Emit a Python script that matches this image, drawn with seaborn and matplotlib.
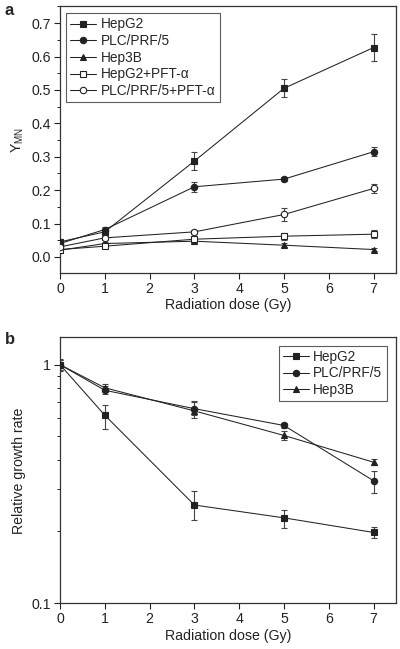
import numpy as np
import pandas as pd
import matplotlib
matplotlib.use("Agg")
import matplotlib.pyplot as plt
import seaborn as sns
from matplotlib.ticker import MultipleLocator, LogLocator, NullFormatter, FixedLocator, FixedFormatter

sns.set_style("ticks")
plt.rcParams['font.family'] = ['Liberation Sans', 'DejaVu Sans']
plt.rcParams['mathtext.fontset'] = 'custom'
plt.rcParams['mathtext.rm'] = 'Liberation Sans'

dose = [0, 1, 3, 5, 7]

# Panel a: Y_MN
a_names = ["HepG2", "PLC/PRF/5", "Hep3B", "HepG2+PFT-α", "PLC/PRF/5+PFT-α"]
a_hepg2 = [0.045, 0.075, 0.287, 0.505, 0.627]
a_hepg2_err = [0.010, 0.010, 0.028, 0.027, 0.040]
a_plc = [0.040, 0.082, 0.210, 0.233, 0.315]
a_plc_err = [0.008, 0.008, 0.015, 0.007, 0.013]
a_hep3b = [0.020, 0.040, 0.047, 0.035, 0.022]
a_hep3b_err = [0.005, 0.005, 0.006, 0.006, 0.004]
a_hepg2_pft = [0.022, 0.032, 0.053, 0.062, 0.068]
a_hepg2_pft_err = [0.006, 0.006, 0.008, 0.010, 0.012]
a_plc_pft = [0.030, 0.057, 0.075, 0.127, 0.205]
a_plc_pft_err = [0.006, 0.006, 0.006, 0.020, 0.013]

# Panel b: relative growth rate
b_names = ["HepG2", "PLC/PRF/5", "Hep3B"]
b_hepg2 = [1.0, 0.614, 0.258, 0.228, 0.198]
b_hepg2_lo = [0.94, 0.54, 0.223, 0.206, 0.187]
b_hepg2_hi = [1.06, 0.677, 0.295, 0.247, 0.209]
b_plc = [1.0, 0.781, 0.654, 0.556, 0.326]
b_plc_lo = [0.95, 0.755, 0.615, 0.545, 0.290]
b_plc_hi = [1.05, 0.81, 0.70, 0.567, 0.359]
b_hep3b = [1.0, 0.800, 0.640, 0.505, 0.390]
b_hep3b_lo = [0.95, 0.77, 0.596, 0.485, 0.378]
b_hep3b_hi = [1.05, 0.83, 0.704, 0.525, 0.402]

fig = plt.figure(figsize=(4.0, 6.49), dpi=100)
ax1 = fig.add_axes([0.15, 0.580, 0.84, 0.410])
ax2 = fig.add_axes([0.15, 0.0705, 0.84, 0.4095])

lc = "#222222"

def draw(ax, y, lo, hi, marker, fill, label):
    df = pd.DataFrame({"dose": dose, "val": y})
    ms = 5.0 if marker == "^" else 4.6
    sns.lineplot(data=df, x="dose", y="val", ax=ax, color=lc, lw=0.75,
                 marker=marker, markersize=ms,
                 markerfacecolor=(lc if fill else "white"),
                 markeredgecolor=lc, markeredgewidth=0.8, label=label, zorder=3)
    yerr = [np.array(y) - np.array(lo), np.array(hi) - np.array(y)]
    ax.errorbar(dose, y, yerr=yerr, fmt="none", ecolor="#444444", elinewidth=0.8,
                capsize=2.5, capthick=0.8, zorder=2)

a_series = [
    (a_hepg2, a_hepg2_err, "s", True),
    (a_plc, a_plc_err, "o", True),
    (a_hep3b, a_hep3b_err, "^", True),
    (a_hepg2_pft, a_hepg2_pft_err, "s", False),
    (a_plc_pft, a_plc_pft_err, "o", False),
]
for name, (y, e, m, f) in zip(a_names, a_series):
    lo = np.array(y) - np.array(e)
    hi = np.array(y) + np.array(e)
    draw(ax1, y, lo, hi, m, f, name)

b_series = [
    (b_hepg2, b_hepg2_lo, b_hepg2_hi, "s"),
    (b_plc, b_plc_lo, b_plc_hi, "o"),
    (b_hep3b, b_hep3b_lo, b_hep3b_hi, "^"),
]
for name, (y, lo, hi, m) in zip(b_names, b_series):
    draw(ax2, y, lo, hi, m, True, name)

fs = 10.2
lfs = 9.8
for ax in (ax1, ax2):
    ax.set_xlim(0, 7.5)
    ax.xaxis.set_major_locator(MultipleLocator(1))
    ax.set_xlabel("Radiation dose (Gy)", fontsize=fs, color="#222222", labelpad=2)
    ax.tick_params(axis="both", which="major", labelsize=fs, length=4, width=0.8,
                   colors="#222222", direction="out", pad=2.5)
    ax.tick_params(axis="both", which="minor", length=2.5, width=0.7, direction="out",
                   colors="#222222")
    for sp in ax.spines.values():
        sp.set_linewidth(0.9)
        sp.set_color("#333333")
        sp.set_visible(True)

ax1.set_ylim(-0.047, 0.75)
ax1.yaxis.set_major_locator(MultipleLocator(0.1))
ax1.yaxis.set_minor_locator(MultipleLocator(0.05))
ax1.yaxis.set_major_formatter(matplotlib.ticker.FormatStrFormatter("%.1f"))
ax1.set_ylabel("Y$_{\\mathrm{MN}}$", fontsize=fs, color="#222222", labelpad=4)

ax2.set_yscale("log")
ax2.set_ylim(0.1, 1.3)
ax2.yaxis.set_major_locator(FixedLocator([0.1, 1]))
ax2.yaxis.set_major_formatter(FixedFormatter(["0.1", "1"]))
ax2.yaxis.set_minor_locator(LogLocator(base=10, subs=np.arange(2, 10)))
ax2.yaxis.set_minor_formatter(NullFormatter())
ax2.set_ylabel("Relative growth rate", fontsize=fs, color="#222222", labelpad=4)

leg1 = ax1.legend(loc="upper left", bbox_to_anchor=(0.01, 0.985), fontsize=lfs,
                  frameon=True, fancybox=False, edgecolor="#333333",
                  handlelength=1.9, handletextpad=0.35, borderpad=0.3,
                  labelspacing=0.2, borderaxespad=0.2)
leg1.get_frame().set_linewidth(0.8)
leg2 = ax2.legend(loc="upper right", bbox_to_anchor=(0.98, 0.98), fontsize=lfs,
                  frameon=True, fancybox=False, edgecolor="#333333",
                  handlelength=1.9, handletextpad=0.35, borderpad=0.3,
                  labelspacing=0.2, borderaxespad=0.2)
leg2.get_frame().set_linewidth(0.8)

fig.text(0.012, 0.996, "a", fontsize=12, fontweight="bold", va="top", ha="left")
fig.text(0.012, 0.489, "b", fontsize=12, fontweight="bold", va="top", ha="left")

fig.savefig("out.png", dpi=100)
